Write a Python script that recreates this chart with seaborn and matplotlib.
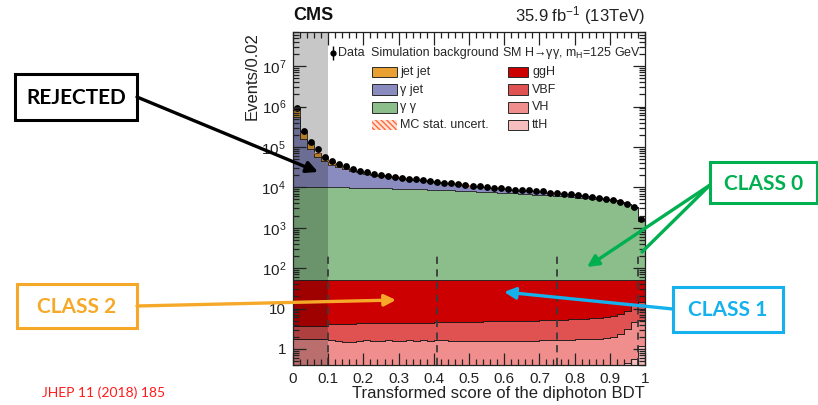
import numpy as np
import pandas as pd
import matplotlib
matplotlib.use("Agg")
import matplotlib.pyplot as plt
import seaborn as sns
from matplotlib.patches import Rectangle
from matplotlib.ticker import MultipleLocator, LogLocator, FuncFormatter, NullFormatter

# ---------------------------------------------------------------------------
# Binning of the transformed diphoton BDT score (50 bins of width 0.02)
# ---------------------------------------------------------------------------
bin_width = 0.02
edges = np.linspace(0.0, 1.0, 51)
bin_centers = np.round(edges[:-1] + bin_width / 2, 3)

# Observed events per bin
data_counts = np.array([
    9.3e5, 2.5e5, 1.3e5, 8.7e4, 5.7e4, 4.4e4, 3.7e4, 3.3e4, 2.9e4, 2.6e4,
    2.4e4, 2.2e4, 2.05e4, 1.9e4, 1.85e4, 1.72e4, 1.65e4, 1.57e4, 1.5e4, 1.42e4,
    1.33e4, 1.3e4, 1.26e4, 1.2e4, 1.15e4, 1.1e4, 1.06e4, 1.02e4, 9.9e3, 9.6e3,
    9.1e3, 8.8e3, 8.5e3, 8.4e3, 8.2e3, 7.9e3, 7.4e3, 7.3e3, 7.0e3, 6.7e3,
    6.3e3, 6.0e3, 5.8e3, 5.4e3, 5.0e3, 4.9e3, 4.4e3, 3.9e3, 3.3e3, 1.6e3,
])

# Simulated backgrounds
gammagamma = np.array([
    1.02e4, 1.03e4, 1.04e4, 1.04e4, 1.04e4, 1.03e4, 1.02e4, 1.0e4, 9.9e3, 9.8e3,
    9.7e3, 9.6e3, 9.5e3, 9.4e3, 9.3e3, 9.2e3, 9.1e3, 9.0e3, 8.9e3, 8.8e3,
    8.7e3, 8.55e3, 8.4e3, 8.25e3, 8.1e3, 7.95e3, 7.8e3, 7.65e3, 7.5e3, 7.35e3,
    7.2e3, 7.05e3, 6.9e3, 6.75e3, 6.6e3, 6.45e3, 6.3e3, 6.15e3, 6.0e3, 5.8e3,
    5.6e3, 5.4e3, 5.2e3, 5.0e3, 4.75e3, 4.5e3, 4.2e3, 3.8e3, 3.1e3, 1.45e3,
])
gammajet = np.array([
    5.5e5, 1.48e5, 7.8e4, 4.5e4, 3.4e4, 2.6e4, 2.2e4, 1.9e4, 1.6e4, 1.38e4,
    1.23e4, 1.07e4, 9.5e3, 8.3e3, 8.0e3, 7.0e3, 6.5e3, 5.9e3, 5.4e3, 4.8e3,
    4.1e3, 4.0e3, 3.7e3, 3.35e3, 3.0e3, 2.75e3, 2.5e3, 2.3e3, 2.15e3, 2.05e3,
    1.7e3, 1.57e3, 1.44e3, 1.5e3, 1.46e3, 1.32e3, 1.0e3, 1.05e3, 910, 820,
    630, 540, 550, 360, 220, 370, 180, 85, 180, 140,
])
jetjet = np.array([
    3.7e5, 7.7e4, 4.0e4, 1.7e4, 1.2e4, 7.5e3, 5.0e3, 4.0e3, 3.0e3, 2.4e3,
    2.0e3, 1.7e3, 1.5e3, 1.3e3, 1.2e3, 1.0e3, 900, 800, 700, 600,
    500, 500, 450, 400, 350, 300, 300, 250, 250, 200,
    200, 180, 160, 150, 140, 130, 110, 100, 90, 80,
    70, 60, 55, 45, 30, 30, 20, 15, 15, 10,
])

# Simulated SM H->gg signal (mH = 125 GeV), per production mode
ggH = np.array([
    47.2, 47.2, 47.2, 47.2, 47.2, 46.8, 46.8, 46.75, 46.75, 46.7,
    46.7, 46.7, 46.65, 46.65, 46.6, 46.6, 46.55, 46.55, 46.5, 46.5,
    46.45, 46.4, 46.4, 46.35, 46.3, 46.3, 46.25, 46.2, 46.2, 46.15,
    46.1, 46.1, 46.05, 46.0, 45.95, 45.9, 45.85, 45.8, 45.7, 45.6,
    45.5, 45.4, 45.3, 45.15, 45.0, 44.4, 43.5, 42.1, 39.0, 36.6,
])
VBF = np.array([
    2.00, 2.00, 2.01, 2.00, 2.00, 2.58, 2.62, 2.75, 2.73, 2.70,
    2.68, 2.70, 2.75, 2.73, 2.80, 2.79, 2.82, 2.86, 2.88, 2.89,
    2.93, 2.98, 3.00, 3.04, 3.10, 3.12, 3.15, 3.19, 3.21, 3.27,
    3.32, 3.30, 3.36, 3.41, 3.44, 3.48, 3.51, 3.55, 3.63, 3.71,
    3.78, 3.86, 3.93, 4.05, 4.15, 4.65, 5.10, 5.70, 7.40, 9.10,
])
VH = np.array([
    1.72, 1.72, 1.70, 1.71, 1.71, 1.52, 1.48, 1.40, 1.42, 1.50,
    1.52, 1.50, 1.49, 1.51, 1.49, 1.50, 1.52, 1.48, 1.50, 1.49,
    1.50, 1.50, 1.48, 1.49, 1.47, 1.45, 1.47, 1.48, 1.46, 1.44,
    1.44, 1.46, 1.45, 1.44, 1.46, 1.47, 1.48, 1.49, 1.50, 1.52,
    1.54, 1.55, 1.57, 1.58, 1.61, 1.67, 2.06, 2.75, 4.05, 4.10,
])
ttH = np.array([
    0.08, 0.08, 0.09, 0.09, 0.09, 0.10, 0.10, 0.10, 0.10, 0.10,
    0.10, 0.10, 0.11, 0.11, 0.11, 0.11, 0.11, 0.11, 0.12, 0.12,
    0.12, 0.12, 0.12, 0.12, 0.13, 0.13, 0.13, 0.13, 0.13, 0.14,
    0.14, 0.14, 0.14, 0.15, 0.15, 0.15, 0.16, 0.16, 0.17, 0.17,
    0.18, 0.19, 0.20, 0.22, 0.24, 0.28, 0.34, 0.45, 0.55, 1.20,
])

bkg_names = ["jet jet", "\u03b3 jet", "\u03b3 \u03b3"]
sig_names = ["ggH", "VBF", "VH", "ttH"]
category_bounds = [0.1, 0.41, 0.75, 0.98]
mc_stat_rel = 0.05

bkg_colors = {"jet jet": "#e9a033", "\u03b3 jet": "#8a8cc0", "\u03b3 \u03b3": "#8bbe8b"}
sig_colors = {"ggH": "#cc0000", "VBF": "#e05252", "VH": "#f08e8e", "ttH": "#f6bebe"}
unc_color = "#ff6a3d"

# ---------------------------------------------------------------------------
# Style
# ---------------------------------------------------------------------------
sns.set_style("ticks")
plt.rcParams["font.family"] = ["Liberation Sans", "DejaVu Sans"]
plt.rcParams["mathtext.fontset"] = "custom"
plt.rcParams["mathtext.rm"] = "Liberation Sans"
plt.rcParams["mathtext.it"] = "Liberation Sans:italic"
plt.rcParams["mathtext.bf"] = "Liberation Sans:bold"
plt.rcParams["hatch.linewidth"] = 1.0

fig = plt.figure(figsize=(8.18, 4.05), dpi=100)
ax = fig.add_axes([293 / 818, 40 / 405, 352 / 818, 333 / 405])
ax.set_yscale("log")

bin_list = edges.tolist()

# Stacked background simulation
bkg = pd.DataFrame({
    "score": np.tile(bin_centers, 3),
    "events": np.concatenate([jetjet, gammajet, gammagamma]),
    "process": np.repeat(bkg_names, len(bin_centers)),
})
sns.histplot(data=bkg, x="score", weights="events", hue="process",
             hue_order=bkg_names, palette=bkg_colors, bins=bin_list,
             multiple="stack", element="step", fill=True, alpha=1,
             edgecolor="#2a2a2a", linewidth=0.6, legend=False, ax=ax, zorder=1)

# MC statistical uncertainty on the total background
mc_total = gammagamma + gammajet + jetjet
ax.fill_between(edges, np.append(mc_total, mc_total[-1]) * (1 - mc_stat_rel),
                np.append(mc_total, mc_total[-1]) * (1 + mc_stat_rel),
                step="post", facecolor="none", edgecolor=unc_color,
                hatch="\\\\\\\\\\\\", linewidth=0, zorder=2)

# Stacked signal, overlaid on the background
sig = pd.DataFrame({
    "score": np.tile(bin_centers, 4),
    "events": np.concatenate([ggH, VBF, VH, ttH]),
    "process": np.repeat(sig_names, len(bin_centers)),
})
sns.histplot(data=sig, x="score", weights="events", hue="process",
             hue_order=sig_names, palette=sig_colors, bins=bin_list,
             multiple="stack", element="step", fill=True, alpha=1,
             edgecolor="#1a1a1a", linewidth=0.6, legend=False, ax=ax, zorder=3)

# Data
ax.vlines(bin_centers, data_counts - np.sqrt(data_counts),
          data_counts + np.sqrt(data_counts), color="black", lw=1, zorder=5)
sns.scatterplot(x=bin_centers, y=data_counts, color="black", s=24,
                linewidth=0, ax=ax, zorder=6)

# Rejected region and category boundaries
ax.axvspan(0.0, 0.1, color="black", alpha=0.22, lw=0, zorder=7)
ax.vlines(category_bounds, 0.4, 250, colors="#3a3a3a", linestyles=(0, (4, 3)),
          lw=1.3, zorder=8)

ax.set_xlim(0, 1)
ax.set_ylim(0.4, 7e7)

# Axes and ticks, drawn above the filled histograms
ax.xaxis.set_zorder(9)
ax.yaxis.set_zorder(9)
ax.xaxis.set_major_locator(MultipleLocator(0.1))
ax.xaxis.set_minor_locator(MultipleLocator(0.02))
ax.xaxis.set_major_formatter(FuncFormatter(
    lambda v, p: "0" if abs(v) < 1e-9 else ("1" if abs(v - 1) < 1e-9 else f"{v:.1f}")))
ax.yaxis.set_major_locator(LogLocator(base=10, numticks=12))
ax.yaxis.set_minor_locator(LogLocator(base=10, subs=np.arange(2, 10), numticks=12))
ax.yaxis.set_minor_formatter(NullFormatter())


def log_label(v, p):
    e = int(round(np.log10(v)))
    if e == 0:
        return "1"
    if e == 1:
        return "10"
    return f"$10^{{{e}}}$"


ax.yaxis.set_major_formatter(FuncFormatter(log_label))
ax.tick_params(which="both", direction="in", top=True, right=True,
               labelsize=11, width=0.9, colors="#222222", labelcolor="#222222")
ax.tick_params(which="major", length=9, pad=5)
ax.tick_params(which="minor", length=4.5)
for s in ax.spines.values():
    s.set_linewidth(0.9)
    s.set_color("#222222")
    s.set_zorder(9)

ax.set_xlabel("Transformed score of the diphoton BDT", fontsize=12, loc="right",
              labelpad=0, color="#222222")
ax.set_ylabel("Events/0.02", fontsize=12, loc="top", labelpad=1, color="#222222")

# Legend
lx_d, ly_h = 0.114, 0.937
ax.errorbar([lx_d], [ly_h], yerr=[0.022], fmt="o", color="black", ms=3.5,
            elinewidth=1, transform=ax.transAxes, zorder=10, clip_on=False)
ax.text(0.127, ly_h, "Data", transform=ax.transAxes, fontsize=9, va="center", zorder=10)
ax.text(0.222, ly_h, "Simulation background", transform=ax.transAxes, fontsize=9,
        va="center", zorder=10)
ax.text(0.594, ly_h, "SM H\u2192\u03b3\u03b3, m$_{\\rm H}$=125 GeV", transform=ax.transAxes,
        fontsize=9, va="center", zorder=10)
rows = [0.880, 0.827, 0.774, 0.721]
sw_h = 0.032
for name, yy in zip(bkg_names, rows[:3]):
    ax.add_patch(Rectangle((0.224, yy - sw_h / 2), 0.071, sw_h, transform=ax.transAxes,
                           facecolor=bkg_colors[name], edgecolor="#2a2a2a", lw=0.7, zorder=10))
    ax.text(0.304, yy, name, transform=ax.transAxes, fontsize=9, va="center", zorder=10)
ax.add_patch(Rectangle((0.224, rows[3] - sw_h / 2), 0.071, sw_h, transform=ax.transAxes,
                       facecolor="#ffe3d6", edgecolor=unc_color, hatch="\\\\\\\\\\\\", lw=0,
                       zorder=10))
ax.text(0.304, rows[3], "MC stat. uncert.", transform=ax.transAxes, fontsize=9,
        va="center", zorder=10)
for name, yy in zip(sig_names, rows):
    ax.add_patch(Rectangle((0.611, yy - sw_h / 2), 0.058, sw_h, transform=ax.transAxes,
                           facecolor=sig_colors[name], edgecolor="#2a2a2a", lw=0.7, zorder=10))
    ax.text(0.679, yy, name, transform=ax.transAxes, fontsize=9, va="center", zorder=10)

# Header
fig.text(293 / 818, 1 - 16 / 405, "CMS", fontsize=13, fontweight="bold", va="center",
         ha="left", color="#111111")
fig.text(645 / 818, 1 - 16 / 405, "35.9 fb$^{-1}$ (13TeV)", fontsize=12, va="center",
         ha="right", color="#222222")

# Category call-outs, laid out in figure pixels
ov = fig.add_axes([0, 0, 1, 1], zorder=20)
ov.set_xlim(0, 818)
ov.set_ylim(405, 0)
ov.axis("off")
ov.patch.set_alpha(0)

callout_font = ["Lato", "DejaVu Sans"]


def callout(x0, y0, w, h, text, color, edge_lw=2.2):
    ov.add_patch(Rectangle((x0, y0), w, h, facecolor="white", edgecolor=color, lw=edge_lw))
    ov.text(x0 + w / 2, y0 + h / 2 + 1, text, color=color, fontsize=15, fontweight="bold",
            ha="center", va="center", family=callout_font)


def arrow(p0, p1, color, head=True):
    ov.annotate("", xy=p1, xytext=p0,
                arrowprops=dict(arrowstyle="-|>" if head else "-", color=color, lw=2.4,
                                mutation_scale=17, shrinkA=0, shrinkB=0))


arrow((137, 97), (318, 172), "black")
callout(15, 74, 122, 46, "REJECTED", "black")

orange = "#f6a929"
arrow((137, 306), (396, 300), orange)
callout(17, 284, 120, 44, "CLASS 2", orange)

blue = "#14b1ec"
arrow((673, 309), (504, 292), blue)
callout(673, 287, 110, 45, "CLASS 1", blue)

green = "#00b050"
arrow((710, 185), (587, 267), green)
arrow((710, 185), (642, 252), green, head=False)
callout(710, 162, 107, 41, "CLASS 0", green)

ov.text(42, 393, "JHEP 11 (2018) 185", color="#ff1a1a", fontsize=10,
        family=callout_font, va="center", ha="left")

fig.savefig("out.png", dpi=100)
